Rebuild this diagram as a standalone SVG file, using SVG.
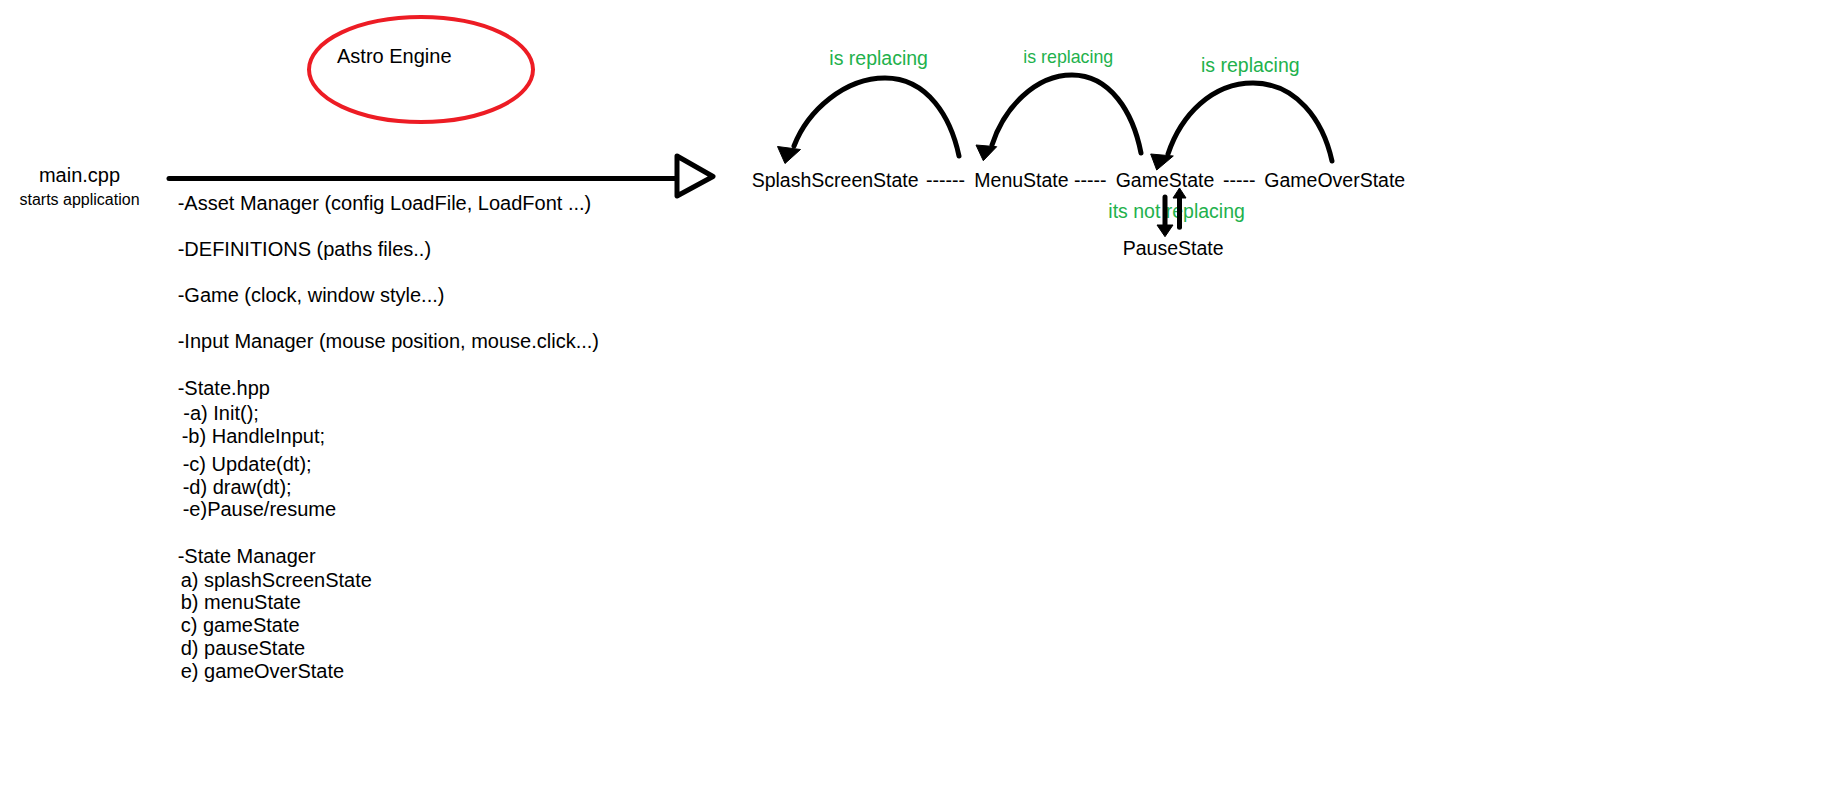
<svg xmlns="http://www.w3.org/2000/svg" width="1823" height="811" viewBox="0 0 1823 811">
<style>
text{font-family:"Liberation Sans",Arial,sans-serif;fill:#000;font-size:20px}
.st{font-size:19.5px}
.lbl{fill:#22B14C;font-size:19.5px}
.ln{fill:none;stroke:#000;stroke-width:5;stroke-linecap:round}
.head{fill:#000;stroke:#000;stroke-width:1;stroke-linejoin:round}
</style>
<rect width="1823" height="811" fill="#fff"/>
<g id="astro-engine">
<ellipse cx="421" cy="69.5" rx="112" ry="52.5" fill="none" stroke="#ED1C24" stroke-width="4"/>
<text x="337" y="63">Astro Engine</text>
</g>
<g id="main-cpp">
<text x="79.5" y="182" text-anchor="middle">main.cpp</text>
<text x="79.5" y="204.5" text-anchor="middle" style="font-size:16px">starts application</text>
</g>
<g id="engine-contents">
<text x="177.7" y="210">-Asset Manager (config LoadFile, LoadFont ...)</text>
<text x="177.7" y="256">-DEFINITIONS (paths files..)</text>
<text x="177.7" y="302">-Game (clock, window style...)</text>
<text x="177.7" y="348">-Input Manager (mouse position, mouse.click...)</text>
<text x="177.7" y="395">-State.hpp</text>
<text x="183.3" y="420">-a) Init();</text>
<text x="181.7" y="443">-b) HandleInput;</text>
<text x="182.7" y="471">-c) Update(dt);</text>
<text x="182.7" y="494">-d) draw(dt);</text>
<text x="182.7" y="516">-e)Pause/resume</text>
<text x="177.7" y="563">-State Manager</text>
<text x="180.7" y="587">a) splashScreenState</text>
<text x="180.7" y="609">b) menuState</text>
<text x="180.7" y="632">c) gameState</text>
<text x="180.7" y="655">d) pauseState</text>
<text x="180.7" y="678">e) gameOverState</text>
</g>
<g id="splash-screen-state"><text class="st" x="751.7" y="187">SplashScreenState</text></g>
<g id="menu-state"><text class="st" x="974.3" y="187">MenuState</text></g>
<g id="game-state"><text class="st" x="1115.7" y="187">GameState</text></g>
<g id="game-over-state"><text class="st" x="1264.3" y="187">GameOverState</text></g>
<g id="pause-state"><text class="st" x="1122.7" y="255">PauseState</text></g>
<g id="connectors">
<line class="ln" x1="169" y1="178.5" x2="677" y2="178.5"/>
<polygon points="677,156 713,176.5 677,196" fill="#fff" stroke="#000" stroke-width="5" stroke-linejoin="round"/>
<text class="st" x="926" y="187">------</text>
<text class="st" x="1074" y="187">-----</text>
<text class="st" x="1223" y="187">-----</text>
<path class="ln" d="M959,156 C951,118 928,78 885,78 C845,78 808,110 794,146"/>
<polygon class="head" points="777.5,146.5 800.5,149.5 785,163.5"/>
<text class="lbl" x="829.3" y="65">is replacing</text>
<path class="ln" d="M1141,153 C1133,112 1110,75 1072,75 C1035,75 1004,108 992,145"/>
<polygon class="head" points="976,145 996.7,146.7 983.3,160.7"/>
<text class="lbl" x="1023.3" y="63.3" style="font-size:17.8px">is replacing</text>
<path class="ln" d="M1332,161 C1323,120 1296,83 1253,83 C1212,83 1181,115 1168,154"/>
<polygon class="head" points="1150.7,154 1173.3,156 1156.7,170"/>
<text class="lbl" x="1201" y="72.3">is replacing</text>
<text class="lbl" x="1108.3" y="218.3">its not replacing</text>
<line class="ln" x1="1165" y1="197" x2="1165" y2="226" stroke-linecap="butt"/>
<polygon class="head" points="1157,225 1173,225 1165,236.7"/>
<line class="ln" x1="1179.5" y1="227.3" x2="1179.5" y2="197" stroke-linecap="butt"/>
<polygon class="head" points="1173,198 1186,198 1179.5,188"/>
</g>
</svg>
